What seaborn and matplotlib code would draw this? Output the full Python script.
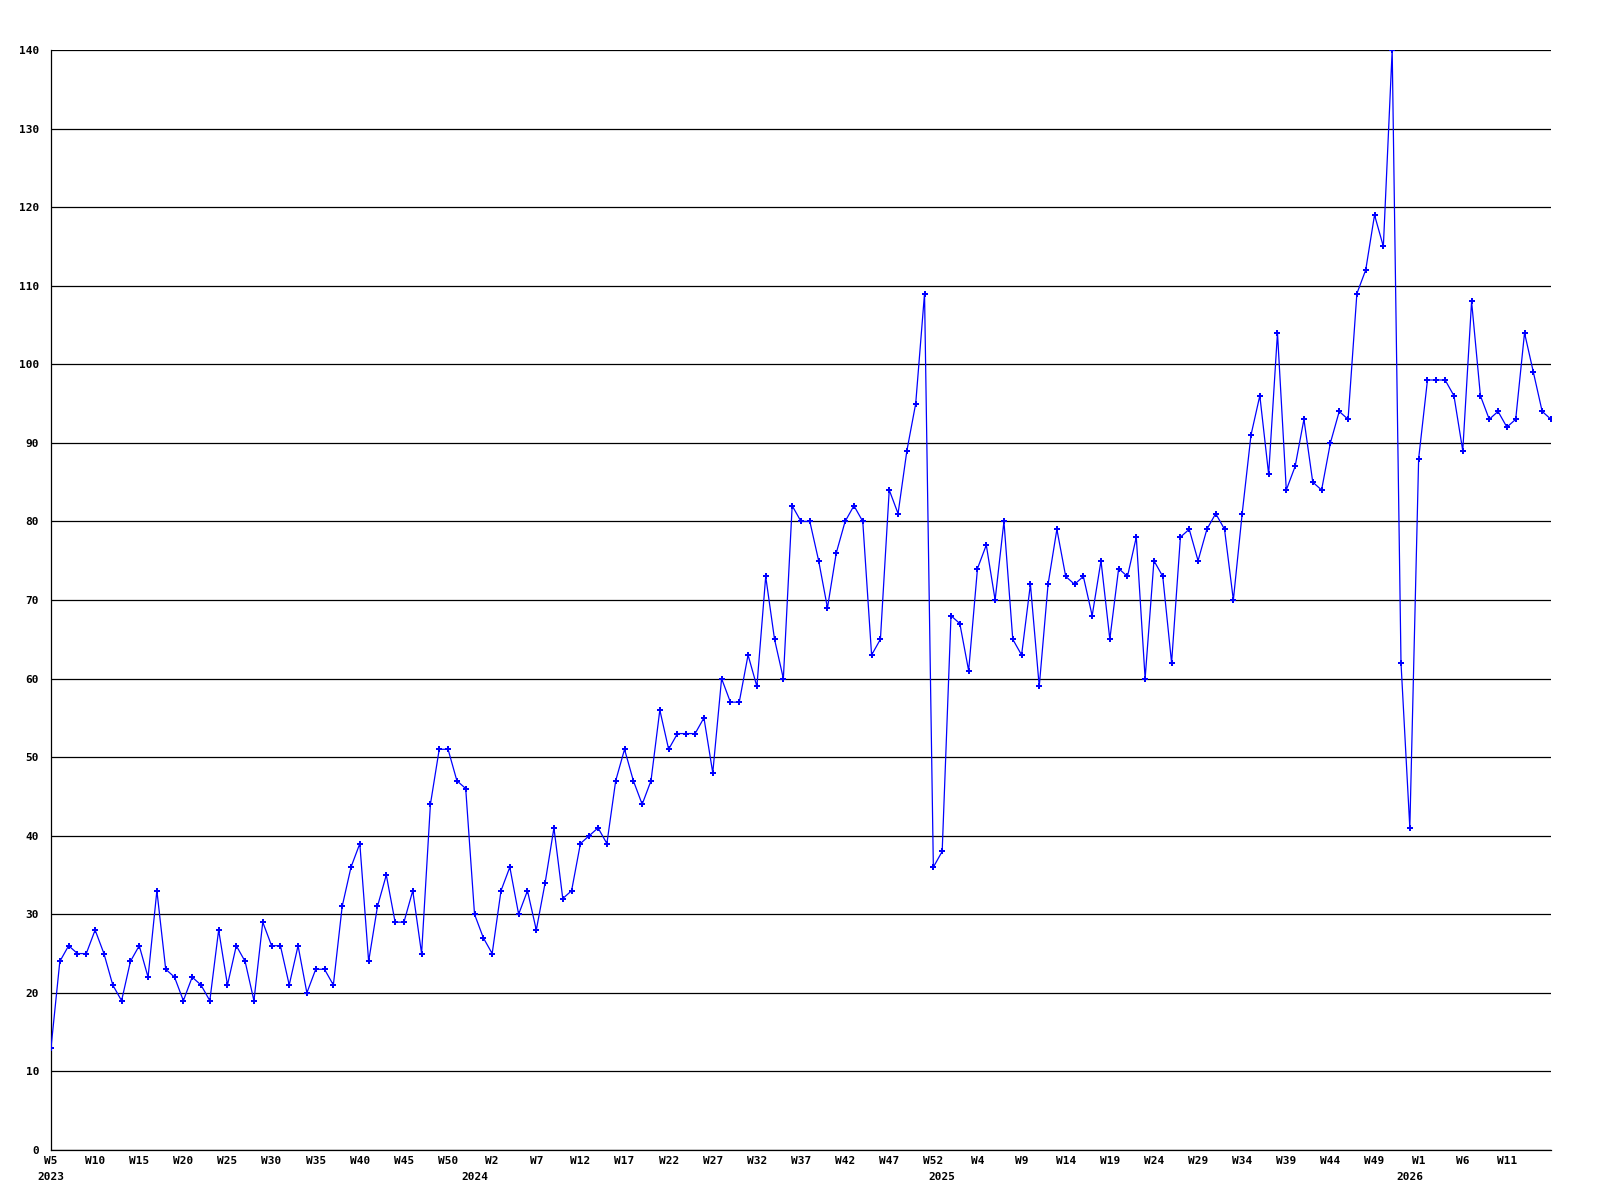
import matplotlib
matplotlib.use("Agg")
import matplotlib.pyplot as plt
import seaborn as sns
import pandas as pd

# ---- data -------------------------------------------------------------
values = [
    13, 24, 26, 25, 25, 28, 25, 21, 19, 24,
    26, 22, 33, 23, 22, 19, 22, 21, 19, 28,
    21, 26, 24, 19, 29, 26, 26, 21, 26, 20,
    23, 23, 21, 31, 36, 39, 24, 31, 35, 29,
    29, 33, 25, 44, 51, 51, 47, 46, 30, 27,
    25, 33, 36, 30, 33, 28, 34, 41, 32, 33,
    39, 40, 41, 39, 47, 51, 47, 44, 47, 56,
    51, 53, 53, 53, 55, 48, 60, 57, 57, 63,
    59, 73, 65, 60, 82, 80, 80, 75, 69, 76,
    80, 82, 80, 63, 65, 84, 81, 89, 95, 109,
    36, 38, 68, 67, 61, 74, 77, 70, 80, 65,
    63, 72, 59, 72, 79, 73, 72, 73, 68, 75,
    65, 74, 73, 78, 60, 75, 73, 62, 78, 79,
    75, 79, 81, 79, 70, 81, 91, 96, 86, 104,
    84, 87, 93, 85, 84, 90, 94, 93, 109, 112,
    119, 115, 140, 62, 41, 88, 98, 98, 98, 96,
    89, 108, 96, 93, 94, 92, 93, 104, 99, 94,
    93,
]

week_labels = [
    "W5", "W10", "W15", "W20", "W25", "W30", "W35", "W40", "W45", "W50",
    "W2", "W7", "W12", "W17", "W22", "W27", "W32", "W37", "W42", "W47", "W52",
    "W4", "W9", "W14", "W19", "W24", "W29", "W34", "W39", "W44", "W49",
    "W1", "W6", "W11",
]
week_label_step = 5

year_labels = ["2023", "2024", "2025", "2026"]
year_start_index = [0, 48, 101, 154]

y_ticks = list(range(0, 141, 10))

# ---- style ------------------------------------------------------------
sns.set_style("white")
plt.rcParams["font.family"] = ["DejaVu Sans Mono"]
plt.rcParams["font.weight"] = "bold"

fig = plt.figure(figsize=(16, 12), dpi=100)
ax = fig.add_axes([51 / 1600, 50 / 1200, 1500 / 1600, 1100 / 1200])

df = pd.DataFrame({"idx": list(range(len(values))), "count": values})
sns.lineplot(
    data=df, x="idx", y="count", ax=ax,
    color="#0000ff", linewidth=0.9,
    marker="P", markersize=4.5, markeredgewidth=0,
    markerfacecolor="#0000ff", zorder=3,
)

ax.set_xlim(0, len(values) - 1)
ax.set_ylim(0, 140)

ax.set_yticks(y_ticks)
ax.set_yticklabels([str(v) for v in y_ticks])
ax.yaxis.grid(True, color="black", linewidth=0.9, zorder=1)
ax.xaxis.grid(False)

major_pos = list(range(0, week_label_step * len(week_labels), week_label_step))
ax.set_xticks(major_pos)
ax.set_xticklabels(week_labels)
ax.xaxis.remove_overlapping_locs = False
ax.set_xticks(year_start_index, minor=True)
ax.set_xticklabels(year_labels, minor=True)

ax.tick_params(axis="y", length=0, pad=8.5, labelsize=8, colors="black")
ax.tick_params(axis="x", which="major", length=0, pad=4, labelsize=8, colors="black")
ax.tick_params(axis="x", which="minor", length=0, pad=16, labelsize=8, colors="black")

for side in ["top", "right"]:
    ax.spines[side].set_visible(False)
for side in ["left", "bottom"]:
    ax.spines[side].set_color("black")
    ax.spines[side].set_linewidth(0.9)

ax.set_xlabel("")
ax.set_ylabel("")

fig.savefig("out.png", dpi=100, facecolor="white")
